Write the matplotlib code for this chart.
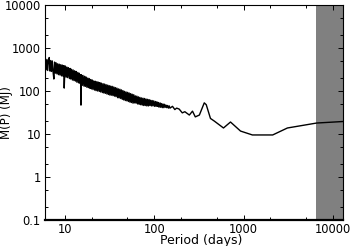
import matplotlib
matplotlib.use("Agg")
import matplotlib.pyplot as plt
from matplotlib.ticker import LogLocator, FixedLocator, NullFormatter

# noisy short-period part
period_noisy = [
    5.80, 5.92, 6.03, 6.15, 6.28, 6.40, 6.53, 6.66, 6.80, 6.93,
    7.07, 7.21, 7.36, 7.50, 7.65, 7.81, 7.96, 8.12, 8.28, 8.45,
    8.62, 8.79, 8.97, 9.15, 9.33, 9.52, 9.71, 9.80, 9.90, 10.1,
    10.3, 10.5, 10.7, 10.9, 11.2, 11.4, 11.6, 11.8, 12.1, 12.3,
    12.6, 12.8, 13.1, 13.3, 13.6, 13.9, 14.2, 14.4, 14.7, 15.0,
    15.1, 15.3, 15.6, 15.9, 16.3, 16.6, 16.9, 17.3, 17.6, 18.0,
    18.3, 18.7, 19.1, 19.4, 19.8, 20.2, 20.6, 21.0, 21.5, 21.9,
    22.3, 22.8, 23.2, 23.7, 24.2, 24.6, 25.1, 25.6, 26.2, 26.7,
    27.2, 27.8, 28.3, 28.9, 29.5, 30.1, 30.7, 31.3, 31.9, 32.5,
    33.2, 33.8, 34.5, 35.2, 35.9, 36.6, 37.3, 38.1, 38.9, 39.6,
    40.4, 41.2, 42.1, 42.9, 43.8, 44.6, 45.5, 46.4, 47.4, 48.3,
    49.3, 50.3, 51.3, 52.3, 53.4, 54.4, 55.5, 56.6, 57.8, 58.9,
    60.1, 61.3, 62.5, 63.8, 65.1, 66.4, 67.7, 69.0, 70.4, 71.8,
    73.3, 74.7, 76.2, 77.8, 79.3, 80.9, 82.5, 84.2, 85.9, 87.6,
    89.3, 91.1, 92.9, 94.8, 96.7, 98.6, 101, 103, 105, 107,
    109, 111, 113, 116, 118, 120, 123, 125, 128, 130,
    133, 135, 138, 141, 144, 147, 150]
mass_noisy = [
    560, 320, 570, 310, 540, 300, 520, 600, 290, 510,
    285, 500, 275, 190, 470, 260, 450, 250, 430, 240,
    420, 235, 410, 225, 400, 220, 390, 117, 215, 380,
    210, 360, 205, 350, 195, 335, 190, 320, 180, 310,
    175, 295, 170, 285, 160, 270, 155, 260, 150, 240,
    47, 235, 135, 230, 130, 220, 128, 210, 122, 200,
    120, 195, 115, 185, 112, 180, 108, 172, 105, 168,
    102, 165, 100, 160, 98, 156, 95, 152, 92, 148,
    90, 145, 88, 140, 85, 137, 83, 133, 80, 130,
    80, 128, 78, 124, 76, 120, 74, 117, 70, 112,
    69, 110, 67, 106, 64, 102, 62, 98, 60, 95,
    59, 93, 57, 90, 55, 87, 54, 84, 52, 82,
    53, 77, 52, 76, 50, 73, 49, 71, 48, 69,
    47, 68, 46, 67, 46, 65, 45, 64, 45, 63,
    46, 61, 45, 60, 45, 59, 44, 57, 44, 56,
    44, 54, 42, 53, 42, 51, 41, 50, 41, 49,
    42, 47, 41, 46, 40, 45, 40]

# smoother long-period part
period_smooth = [160, 170, 178, 190, 206, 220, 247, 268, 288, 320, 363, 382,
                 426, 470, 596, 714, 925, 1256, 2120, 3100, 6600, 12900]
mass_smooth = [44, 37, 40, 38, 31, 33, 27.6, 34, 25, 27.6, 53, 48,
               23, 20, 13.8, 19, 11.7, 9.5, 9.5, 13.8, 18, 19.5]

x_ticks = [10, 100, 1000, 10000]
x_ticklabels = ['10', '100', '1000', '10000']
y_ticks = [0.1, 1, 10, 100, 1000, 10000]
y_ticklabels = ['0.1', '1', '10', '100', '1000', '10000']

excluded_start = 6400
xlim = (5.97, 13000)
ylim = (0.1, 10000)

period = period_noisy + period_smooth
mass = mass_noisy + mass_smooth

plt.rcParams['font.family'] = ['DejaVu Sans']
fig = plt.figure(figsize=(3.52, 2.46), dpi=100)
ax = fig.add_axes([45/352, 26/246, 298/352, 215/246])

ax.axvspan(excluded_start, xlim[1], color='#808080', lw=0, zorder=1)
ax.plot(period, mass, color='black', lw=1.0, zorder=2)

ax.set_xscale('log')
ax.set_yscale('log')
ax.set_xlim(*xlim)
ax.set_ylim(*ylim)

ax.xaxis.set_major_locator(FixedLocator(x_ticks))
ax.xaxis.set_minor_locator(LogLocator(base=10, subs=(2.0, 5.0)))
ax.yaxis.set_major_locator(FixedLocator(y_ticks))
ax.yaxis.set_minor_locator(LogLocator(base=10, subs=(2.0, 5.0)))
ax.xaxis.set_minor_formatter(NullFormatter())
ax.yaxis.set_minor_formatter(NullFormatter())
ax.set_xticklabels(x_ticklabels)
ax.set_yticklabels(y_ticklabels)

ax.tick_params(which='both', direction='in', top=True, right=True, labelsize=8.3, width=0.7)
ax.tick_params(which='major', length=3.5, pad=3)
ax.tick_params(axis='x', which='major', pad=2.5)
ax.tick_params(which='minor', length=2)
for s in ax.spines.values():
    s.set_linewidth(0.8)
ax.spines['bottom'].set_linewidth(1.6)

ax.set_xlabel('Period (days)', fontsize=9, labelpad=0)
ax.xaxis.label.set_verticalalignment('baseline')
ax.xaxis.set_label_coords(0.524, -0.1116)
ax.set_ylabel('M(P) (MJ)', fontsize=8.5)
ax.yaxis.set_label_coords(-0.108, 0.5)

fig.savefig('out.png', dpi=100)
